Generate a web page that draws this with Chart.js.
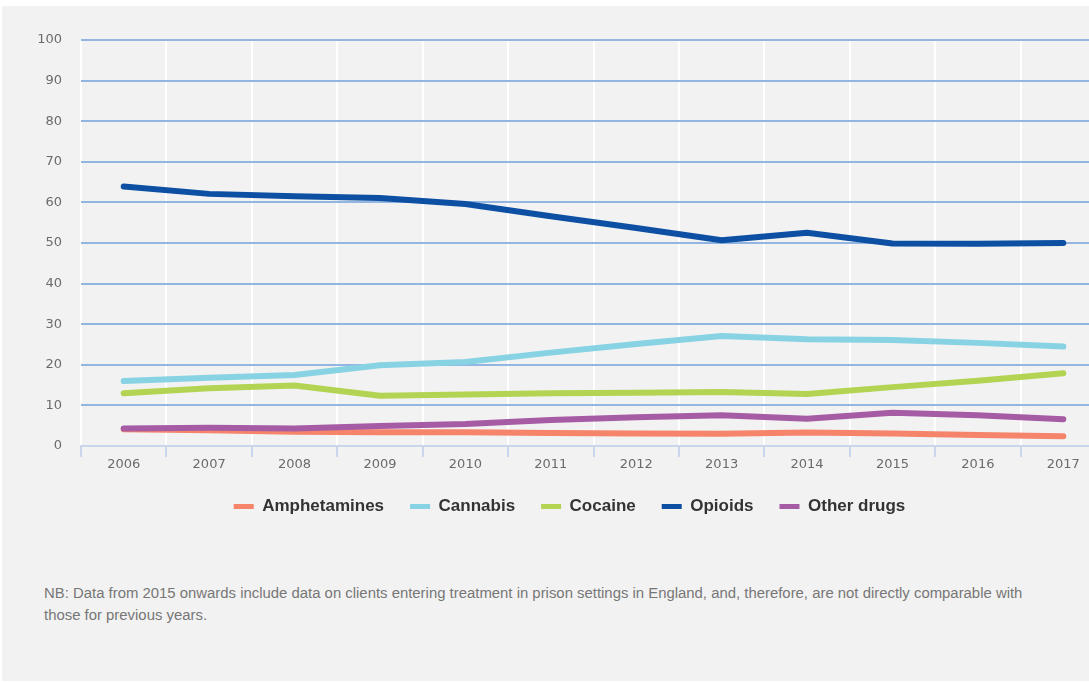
<!DOCTYPE html>
<html>
<head>
<meta charset="utf-8">
<script src="https://cdn.jsdelivr.net/npm/chart.js@4/dist/chart.umd.min.js"></script>
<style>
  html, body { margin: 0; padding: 0; background: #ffffff; overflow: hidden; width: 1089px; height: 682px; }
  #panel { position: absolute; left: 2px; top: 6px; width: 1087px; height: 675px; background: #f2f2f2; }
  #wrap { position: absolute; left: 0; top: 0; width: 1106px; height: 525px; }
  #note { position: absolute; left: 44px; top: 582px; width: 1000px; font-family: "Liberation Sans", Arial, sans-serif; font-size: 14.9px; line-height: 22px; color: #777777; }
</style>
</head>
<body>
<div id="panel"></div>
<div id="wrap"><canvas id="c"></canvas></div>
<div id="note">NB: Data from 2015 onwards include data on clients entering treatment in prison settings in England, and, therefore, are not directly comparable with those for previous years.</div>
<script>
const years = ["2006","2007","2008","2009","2010","2011","2012","2013","2014","2015","2016","2017"];
const amphetamines = [4.1, 3.9, 3.5, 3.4, 3.4, 3.2, 3.1, 3.0, 3.3, 3.1, 2.7, 2.4];
const cannabis     = [16.0, 16.8, 17.5, 19.9, 20.7, 23.0, 25.1, 27.1, 26.3, 26.1, 25.4, 24.5];
const cocaine      = [13.0, 14.2, 14.9, 12.4, 12.7, 13.0, 13.1, 13.3, 12.8, 14.5, 16.1, 17.9];
const opioids      = [63.9, 62.1, 61.5, 61.1, 59.6, 56.6, 53.7, 50.7, 52.5, 49.9, 49.8, 50.0];
const otherDrugs   = [4.3, 4.5, 4.3, 4.9, 5.4, 6.4, 7.1, 7.6, 6.7, 8.2, 7.6, 6.6];
const yTicks = [0, 10, 20, 30, 40, 50, 60, 70, 80, 90, 100];

const seriesNames = ["Amphetamines", "Cannabis", "Cocaine", "Opioids", "Other drugs"];
const seriesData = [amphetamines, cannabis, cocaine, opioids, otherDrugs];
const seriesColors = ["#f5846a", "#88d3e3", "#b3d452", "#0c4fa3", "#a55ca5"];
const seriesOrder = [5, 4, 3, 2, 1];

const datasets = seriesNames.map((n, i) => ({
  label: n,
  data: seriesData[i],
  borderColor: seriesColors[i],
  backgroundColor: seriesColors[i],
  borderWidth: 6,
  pointRadius: 0,
  pointHoverRadius: 0,
  tension: 0,
  borderCapStyle: "round",
  borderJoinStyle: "round",
  fill: false,
  order: seriesOrder[i]
}));

new Chart(document.getElementById("c"), {
  type: "line",
  data: { labels: years, datasets: datasets },
  options: {
    responsive: true,
    maintainAspectRatio: false,
    animation: false,
    layout: { padding: { left: 33, right: 0, top: 40, bottom: 0 } },
    plugins: {
      tooltip: { enabled: false },
      legend: {
        position: "bottom",
        labels: {
          boxWidth: 20,
          boxHeight: 5,
          padding: 26,
          color: "#333333",
          font: { family: "'Liberation Sans', Arial, sans-serif", size: 17, weight: "bold" },
          sort: (a, b) => a.datasetIndex - b.datasetIndex,
          generateLabels: (chart) => {
            const items = Chart.defaults.plugins.legend.labels.generateLabels(chart);
            items.forEach(it => { it.lineWidth = 0; it.strokeStyle = it.fillStyle; });
            return items;
          }
        }
      }
    },
    scales: {
      x: {
        offset: true,
        grid: { color: "#ffffff", lineWidth: 2, tickColor: "#c8d5ea", tickLength: 11, offset: true, drawOnChartArea: true },
        border: { display: true, color: "#c8d5ea", width: 2 },
        ticks: { color: "#6b6b6b", font: { family: "'DejaVu Sans', sans-serif", size: 13 }, padding: 0, maxRotation: 0 },
        afterFit: (s) => { s.height = 26; }
      },
      y: {
        min: 0, max: 100,
        afterBuildTicks: (s) => { s.ticks = yTicks.map(v => ({ value: v })); },
        grid: { color: "#92b5e2", lineWidth: 2, drawTicks: false },
        border: { display: false },
        ticks: { color: "#6b6b6b", font: { family: "'DejaVu Sans', sans-serif", size: 13 }, padding: 19 },
        afterFit: (s) => { s.width = 48; }
      }
    }
  }
});
</script>
</body>
</html>
